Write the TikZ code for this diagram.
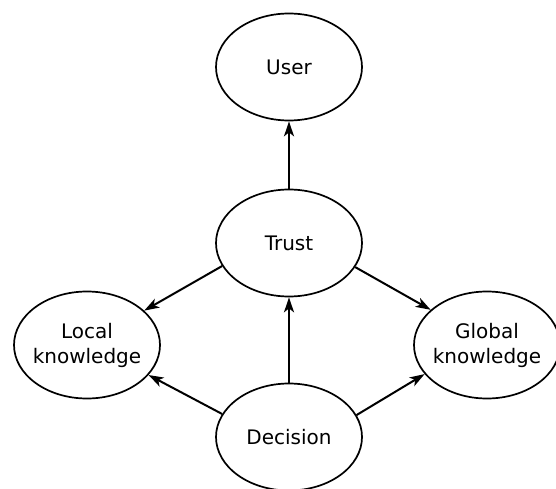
\documentclass[tikz,border=0pt]{standalone}
\usepackage{fontspec}
\setmainfont{DejaVu Sans}
\usetikzlibrary{shapes.geometric,arrows.meta}
\begin{document}
\begin{tikzpicture}[x=1pt,y=1pt,
  concept/.style={ellipse, draw, line width=1.7pt, minimum width=146pt,
    minimum height=107pt, inner xsep=-10pt, inner ysep=0pt, align=center,
    font=\fontsize{20}{25}\selectfont},
  link/.style={line width=2pt, -{Stealth[length=15pt,width=10pt,inset=4pt]}}]
  \useasboundingbox (0,0) rectangle (556,-489);
  \node[concept] (user)     at (289,-67)  {User};
  \node[concept] (trust)    at (289,-243) {Trust};
  \node[concept] (local)    at (87,-345)  {Local\\knowledge};
  \node[concept] (global)   at (487,-345) {Global\\knowledge};
  \node[concept] (decision) at (289,-437) {Decision};
  \draw[link] (trust) -- (user);
  \draw[link] (decision) -- (trust);
  \draw[link] (trust.199.6) -- (local.31.1);
  \draw[link] (trust.340.4) -- (global.148.9);
  \draw[link] (decision.161.9) -- (local.334.5);
  \draw[link] (decision.18.1) -- (global.205.5);
\end{tikzpicture}
\end{document}
